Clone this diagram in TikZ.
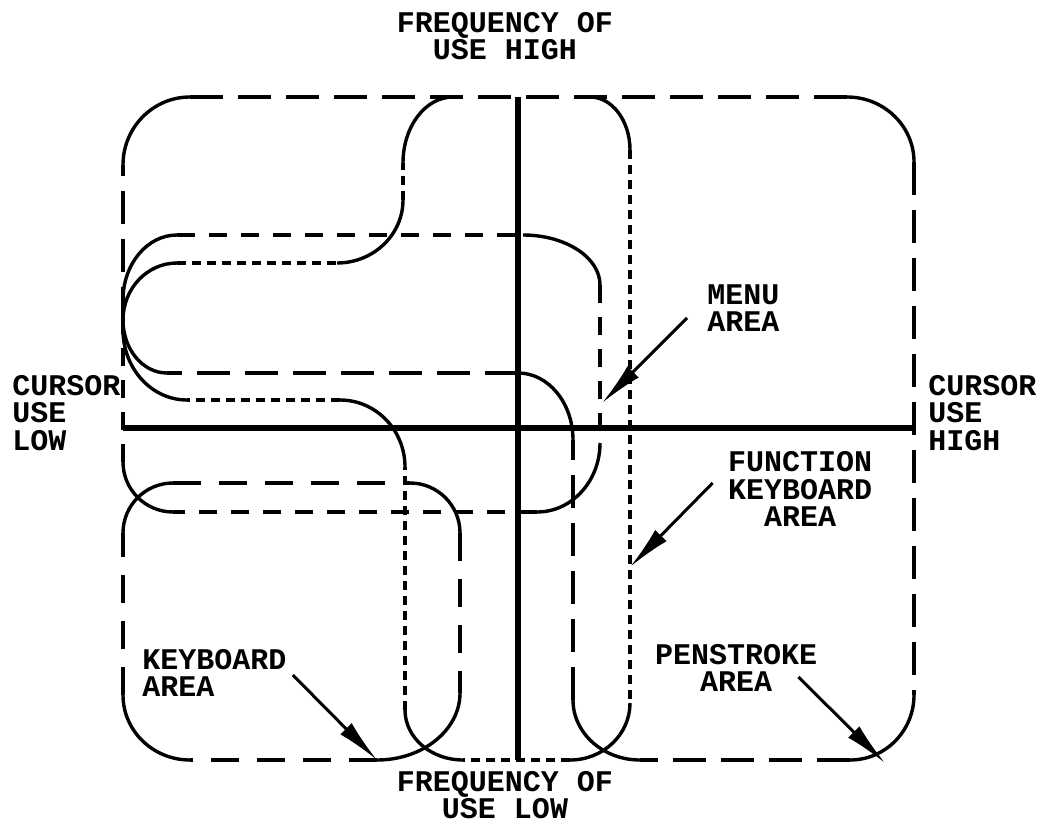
\documentclass[tikz,border=0pt]{standalone}
\usepackage{fontspec}
\setmonofont{Liberation Mono}
\usetikzlibrary{arrows.meta}

\begin{document}
\begin{tikzpicture}[x=0.5pt,y=-0.5pt,
  lab/.style={font=\ttfamily\bfseries\fontsize{15}{13.75}\selectfont,inner sep=0pt},
  axis/.style={line width=2.6pt},
  corner/.style={line width=1.7pt},
  penline/.style={line width=1.7pt,dash pattern=on 16.5pt off 7.5pt},
  menuline/.style={line width=1.7pt,dash pattern=on 9pt off 7pt},
  kbdline/.style={line width=1.7pt,dash pattern=on 14pt off 9pt},
  fkline/.style={line width=1.7pt,dash pattern=on 4.5pt off 3pt},
  pointer/.style={line width=1.5pt,-{Latex[length=22pt,width=8pt]}}]
  \useasboundingbox (0,0) rectangle (1047,823);

  % (a) axes of the usage plane
  \draw[axis] (123,428) -- (913,428);
  \draw[axis] (518,97) -- (518,760);

  % (b) penstroke area: straight runs dashed, corners solid
  \draw[corner] (123,165) arc[start angle=180,end angle=270,x radius=67,y radius=68];
  \draw[penline] (190,97) -- (847,97);
  \draw[corner] (847,97) arc[start angle=270,end angle=360,x radius=67,y radius=65];
  \draw[penline] (914,162) -- (914,695);
  \draw[corner] (914,695) arc[start angle=0,end angle=90,x radius=64,y radius=65];
  \draw[penline] (850,760) -- (640,760);
  \draw[corner] (640,760) arc[start angle=90,end angle=180,x radius=67,y radius=60];
  \draw[penline] (573,700) -- (573,440);
  \draw[corner] (573,440) arc[start angle=0,end angle=-90,x radius=55,y radius=67];
  \draw[penline] (518,373) -- (167,373);
  \draw[corner] (167,373) arc[start angle=90,end angle=180,x radius=44,y radius=53];
  \draw[penline] (123,320) -- (123,165);

  % (c) menu area
  \draw[menuline] (177,235) -- (523,235);
  \draw[corner] (523,235) arc[start angle=-90,end angle=0,x radius=77,y radius=50];
  \draw[menuline] (600,285) -- (600,443);
  \draw[corner] (600,443) arc[start angle=0,end angle=90,x radius=63,y radius=69];
  \draw[menuline] (537,512) -- (173,512);
  \draw[corner] (173,512) arc[start angle=90,end angle=180,x radius=50,y radius=50];
  \draw[menuline] (123,462) -- (123,300);
  \draw[corner] (123,300) arc[start angle=180,end angle=270,x radius=54,y radius=65];

  % (d) function keyboard area
  \draw[fkline] (177,263) -- (337,263);
  \draw[corner] (337,263) arc[start angle=90,end angle=0,x radius=66,y radius=63];
  \draw[fkline] (403,200) -- (403,163);
  \draw[corner] (403,163) arc[start angle=180,end angle=270,x radius=50,y radius=66];
  \draw[corner] (590,97) arc[start angle=270,end angle=360,x radius=40,y radius=53];
  \draw[fkline] (630,150) -- (630,703);
  \draw[corner] (630,703) arc[start angle=0,end angle=90,x radius=60,y radius=57];
  \draw[fkline] (570,760) -- (463,760);
  \draw[corner] (463,760) arc[start angle=90,end angle=180,x radius=58,y radius=50];
  \draw[fkline] (405,710) -- (405,467);
  \draw[corner] (405,467) arc[start angle=0,end angle=-90,x radius=65,y radius=67];
  \draw[fkline] (340,400) -- (187,400);
  \draw[corner] (187,400) arc[start angle=90,end angle=180,x radius=64,y radius=70];
  \draw[corner] (123,330) -- (123,320) arc[start angle=180,end angle=270,x radius=54,y radius=57];

  % (e) keyboard area
  \draw[kbdline] (173,483) -- (410,483);
  \draw[corner] (410,483) arc[start angle=-90,end angle=0,x radius=50,y radius=50];
  \draw[kbdline] (460,533) -- (460,693);
  \draw[corner] (460,693) arc[start angle=0,end angle=90,x radius=83,y radius=67];
  \draw[kbdline] (377,760) -- (190,760);
  \draw[corner] (190,760) arc[start angle=90,end angle=180,x radius=67,y radius=65];
  \draw[kbdline] (123,695) -- (123,533);
  \draw[corner] (123,533) arc[start angle=180,end angle=270,x radius=50,y radius=50];

  % (f) axis captions and area labels
  \node[lab,align=center] (fhigh) at (505,36) {FREQUENCY OF\\USE HIGH};
  \node[lab,align=center] (flow) at (505,795) {FREQUENCY OF\\USE LOW};
  \node[lab,align=left,anchor=west] (clow) at (12,413) {CURSOR\\USE\\LOW};
  \node[lab,align=left,anchor=west] (chigh) at (928,413) {CURSOR\\USE\\HIGH};
  \node[lab,align=left,anchor=west] (menu) at (707,308) {MENU\\AREA};
  \node[lab,align=center] (fkey) at (800,489) {FUNCTION\\KEYBOARD\\AREA};
  \node[lab,align=left,anchor=west] (kbd) at (142,673) {KEYBOARD\\AREA};
  \node[lab,align=center] (pen) at (736,668) {PENSTROKE\\AREA};

  \coordinate (menutip) at (602,403);
  \coordinate (fkeytip) at (630,567);
  \coordinate (kbdtip) at (377,760);
  \coordinate (pentip) at (885,763);

  \draw[pointer] ([shift={(-20,10)}]menu.west) -- (menutip);
  \draw[pointer] ([shift={(-15,-6)}]fkey.west) -- (fkeytip);
  \draw[pointer] ([shift={(6,2)}]kbd.east) -- (kbdtip);
  \draw[pointer] ([shift={(-19,9)}]pen.east) -- (pentip);
\end{tikzpicture}
\end{document}
